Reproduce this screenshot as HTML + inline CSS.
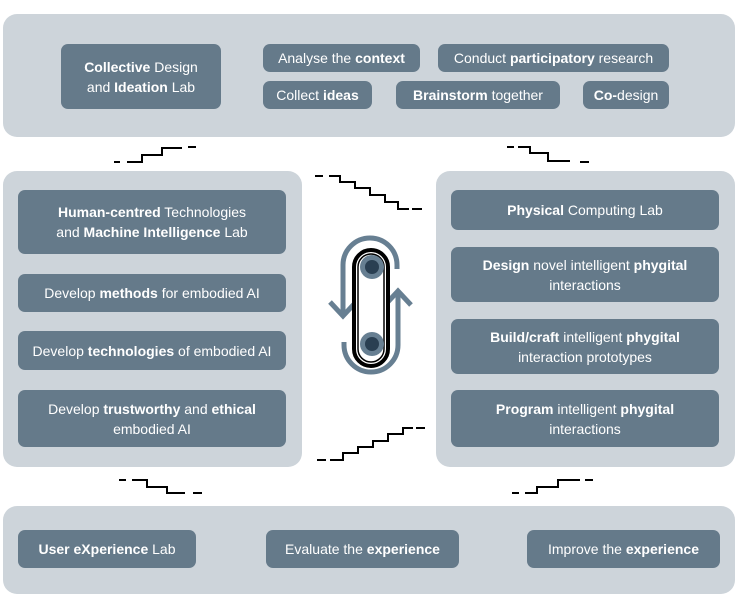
<!DOCTYPE html>
<html><head><style>
body{margin:0;width:740px;height:598px;background:#fff;position:relative;font-family:"Liberation Sans",sans-serif;overflow:hidden}
.p{position:absolute;background:#cdd4da;border-radius:14px}
.b{position:absolute;background:#657a8a;border-radius:7px;color:#fff;font-size:14px;display:flex;align-items:center;justify-content:center;text-align:center;line-height:20px}
svg{position:absolute;left:0;top:0}
</style></head><body>
<div class="p" style="left:3px;top:14px;width:732px;height:123px"></div>
<div class="p" style="left:3px;top:171px;width:299px;height:296px"></div>
<div class="p" style="left:436px;top:171px;width:299px;height:296px"></div>
<div class="p" style="left:3px;top:506px;width:732px;height:88px"></div>

<div class="b" style="left:61px;top:44px;width:160px;height:65px"><span><b>Collective</b> Design<br>and <b>Ideation</b> Lab</span></div>
<div class="b" style="left:263px;top:44px;width:157px;height:28px"><span>Analyse the <b>context</b></span></div>
<div class="b" style="left:438px;top:44px;width:231px;height:28px"><span>Conduct <b>participatory</b> research</span></div>
<div class="b" style="left:263px;top:81px;width:109px;height:28px"><span>Collect <b>ideas</b></span></div>
<div class="b" style="left:396px;top:81px;width:164px;height:28px"><span><b>Brainstorm</b> together</span></div>
<div class="b" style="left:583px;top:81px;width:86px;height:28px"><span><b>Co-</b>design</span></div>

<div class="b" style="left:18px;top:190px;width:268px;height:64px"><span><b>Human-centred</b> Technologies<br>and <b>Machine Intelligence</b> Lab</span></div>
<div class="b" style="left:18px;top:274px;width:268px;height:38px"><span>Develop <b>methods</b> for embodied AI</span></div>
<div class="b" style="left:18px;top:331px;width:268px;height:39px"><span>Develop <b>technologies</b> of embodied AI</span></div>
<div class="b" style="left:18px;top:390px;width:268px;height:57px"><span>Develop <b>trustworthy</b> and <b>ethical</b><br>embodied AI</span></div>

<div class="b" style="left:451px;top:190px;width:268px;height:40px"><span><b>Physical</b> Computing Lab</span></div>
<div class="b" style="left:451px;top:247px;width:268px;height:55px"><span><b>Design</b> novel intelligent <b>phygital</b><br>interactions</span></div>
<div class="b" style="left:451px;top:319px;width:268px;height:55px"><span><b>Build/craft</b> intelligent <b>phygital</b><br>interaction prototypes</span></div>
<div class="b" style="left:451px;top:390px;width:268px;height:57px"><span><b>Program</b> intelligent <b>phygital</b><br>interactions</span></div>

<div class="b" style="left:18px;top:530px;width:178px;height:38px"><span><b>User eXperience</b> Lab</span></div>
<div class="b" style="left:266px;top:530px;width:193px;height:38px"><span>Evaluate the <b>experience</b></span></div>
<div class="b" style="left:527px;top:530px;width:193px;height:38px"><span>Improve the <b>experience</b></span></div>

<svg width="740" height="598" viewBox="0 0 740 598">
<g fill="none" stroke="#000" stroke-width="2">
<path d="M127 162H142V155H162V148H182"/>
<path d="M114 162h6M188 147h8" />
<path d="M329 176H340V182H355V188H370V195H385V202H398V209H409"/>
<path d="M315 176h8M412 209h10"/>
<path d="M518 147H530V153H548V161H570"/>
<path d="M507 147h7M580 162h9"/>
<path d="M330 460H343V453H358V447H373V441H388V434H403V428H413"/>
<path d="M317 460h9M416 428h9"/>
<path d="M132 480H147V487H167V493H185"/>
<path d="M119 480h7M193 493h9"/>
<path d="M525 493H537V487H558V480H580"/>
<path d="M512 493h7M585 480h8"/>
</g>
<g fill="none" stroke="#677f92" stroke-width="5">
<path d="M343 316V265a27 27 0 0 1 54 0v4"/>
<path d="M330 302l13 14 13-14"/>
<path d="M398 291V345a27 27 0 0 1-54 0v-3"/>
<path d="M385 305l13-14 13 14"/>
</g>
<rect x="354" y="250" width="34" height="116" rx="17" fill="#fff" stroke="#000" stroke-width="4"/>
<rect x="358" y="254" width="26" height="108" rx="13" fill="none" stroke="#000" stroke-width="1.5"/>
<circle cx="372" cy="267" r="12" fill="#677f92"/><circle cx="372" cy="267" r="7" fill="#2a3f52"/>
<circle cx="372" cy="344" r="12" fill="#677f92"/><circle cx="372" cy="344" r="7" fill="#2a3f52"/>
</svg>
</body></html>
